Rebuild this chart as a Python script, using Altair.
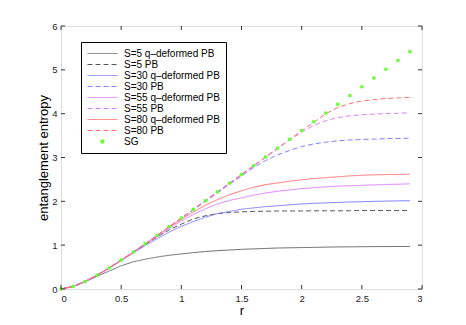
import altair as alt
import pandas as pd

r = [0.0, 0.1, 0.2, 0.3, 0.4, 0.5, 0.6, 0.7, 0.8, 0.9,
     1.0, 1.1, 1.2, 1.3, 1.4, 1.5, 1.6, 1.7, 1.8, 1.9,
     2.0, 2.1, 2.2, 2.3, 2.4, 2.5, 2.6, 2.7, 2.8, 2.9]

sg = [0, 0.056, 0.171, 0.317, 0.483, 0.659, 0.844, 1.034, 1.227, 1.423,
      1.620, 1.818, 2.017, 2.216, 2.415, 2.615, 2.814, 3.014, 3.214, 3.414,
      3.614, 3.814, 4.014, 4.214, 4.414, 4.614, 4.814, 5.014, 5.214, 5.414]

s5_q = [0, 0.055, 0.165, 0.29, 0.41, 0.53, 0.62, 0.68, 0.73, 0.77,
        0.80, 0.83, 0.855, 0.875, 0.89, 0.905, 0.915, 0.925, 0.935, 0.94,
        0.945, 0.95, 0.955, 0.96, 0.962, 0.965, 0.967, 0.968, 0.97, 0.97]
s5_pb = [0, 0.056, 0.171, 0.316, 0.48, 0.655, 0.835, 1.01, 1.19, 1.35,
         1.48, 1.60, 1.67, 1.72, 1.745, 1.76, 1.77, 1.775, 1.78, 1.78,
         1.78, 1.785, 1.785, 1.785, 1.785, 1.79, 1.79, 1.79, 1.79, 1.79]
s30_q = [0, 0.056, 0.17, 0.314, 0.475, 0.645, 0.82, 0.99, 1.15, 1.30,
         1.43, 1.54, 1.64, 1.72, 1.77, 1.82, 1.85, 1.88, 1.90, 1.92,
         1.94, 1.955, 1.965, 1.975, 1.985, 1.99, 2.0, 2.005, 2.01, 2.015]
s30_pb = [0, 0.056, 0.171, 0.317, 0.483, 0.659, 0.843, 1.032, 1.224, 1.418,
          1.612, 1.805, 1.995, 2.19, 2.39, 2.58, 2.77, 2.93, 3.06, 3.16,
          3.25, 3.31, 3.35, 3.38, 3.40, 3.41, 3.42, 3.43, 3.435, 3.44]
s55_q = [0, 0.056, 0.171, 0.316, 0.48, 0.655, 0.835, 1.02, 1.20, 1.38,
         1.55, 1.70, 1.83, 1.94, 2.02, 2.08, 2.14, 2.19, 2.23, 2.26,
         2.29, 2.31, 2.33, 2.345, 2.355, 2.365, 2.375, 2.385, 2.39, 2.40]
s55_pb = [0, 0.056, 0.171, 0.317, 0.483, 0.659, 0.844, 1.034, 1.227, 1.423,
          1.620, 1.818, 2.016, 2.214, 2.41, 2.61, 2.80, 3.00, 3.20, 3.40,
          3.58, 3.73, 3.84, 3.91, 3.95, 3.975, 3.99, 4.00, 4.01, 4.02]
s80_q = [0, 0.056, 0.171, 0.317, 0.482, 0.657, 0.84, 1.03, 1.22, 1.41,
         1.59, 1.76, 1.91, 2.04, 2.15, 2.24, 2.32, 2.38, 2.42, 2.46,
         2.49, 2.52, 2.54, 2.56, 2.58, 2.595, 2.605, 2.61, 2.615, 2.62]
s80_pb = [0, 0.056, 0.171, 0.317, 0.483, 0.659, 0.844, 1.034, 1.227, 1.423,
          1.620, 1.818, 2.017, 2.216, 2.415, 2.615, 2.814, 3.014, 3.214, 3.41,
          3.61, 3.80, 4.00, 4.14, 4.23, 4.29, 4.32, 4.345, 4.36, 4.37]

labels = ["S=5 q–deformed PB", "S=5 PB", "S=30 q–deformed PB", "S=30 PB",
          "S=55 q–deformed PB", "S=55 PB", "S=80 q–deformed PB", "S=80 PB", "SG"]
colors = ["#6e6e6e", "#555555", "#8080ff", "#8080ff", "#dd80ff", "#dd80ff",
          "#ff7070", "#ff7070", "#66ff33"]
dashes = [[1, 0], [5, 3], [1, 0], [5, 3], [1, 0], [5, 3], [1, 0], [5, 3], [1, 0]]

x_ticks = [0, 0.5, 1, 1.5, 2, 2.5, 3]
y_ticks = [0, 1, 2, 3, 4, 5, 6]

series = [s5_q, s5_pb, s30_q, s30_pb, s55_q, s55_pb, s80_q, s80_pb]
rows = []
for lab, vals in zip(labels[:8], series):
    for i, (rv, v) in enumerate(zip(r, vals)):
        rows.append({"r": rv, "v": v, "series": lab, "order": i})
lines_df = pd.DataFrame(rows)
sg_df = pd.DataFrame({"r": r, "v": sg})
xt_df = pd.DataFrame({"t": x_ticks})
yt_df = pd.DataFrame({"t": y_ticks})

W, H = 361, 263
FONT = "Liberation Sans"

xscale = alt.Scale(domain=[0, 3], nice=False)
yscale = alt.Scale(domain=[0, 6], nice=False)

legend = alt.Legend(
    title=None, orient="none", legendX=20, legendY=16,
    symbolType=alt.ExprRef("datum.value == 'SG' ? 'M1.7,-0.3H2.3V0.3H1.7Z' : 'M-1,0H5'"),
    symbolFillColor=alt.ExprRef("datum.value == 'SG' ? '#66ff33' : 'transparent'"),
    symbolSize=100, symbolStrokeWidth=1, labelOffset=26,
    labelFont=FONT, labelFontSize=10, labelColor="#000000",
    strokeColor="#000000", fillColor="#ffffff", padding=6, rowPadding=0,
    labelLimit=300,
)

lines = alt.Chart(lines_df).mark_line(strokeWidth=1, clip=True).encode(
    x=alt.X("r:Q", scale=xscale,
            axis=alt.Axis(values=x_ticks, format="~g", ticks=False, domain=False,
                          grid=False, title="r", labelFont=FONT, labelFontSize=9.5,
                          labelColor="#222222", labelPadding=4, titleFont=FONT,
                          titleFontSize=13, titleFontWeight="normal",
                          titleColor="#000000", titlePadding=2)),
    y=alt.Y("v:Q", scale=yscale,
            axis=alt.Axis(values=y_ticks, format="~g", ticks=False, domain=False,
                          grid=False, title="entanglement entropy", labelFont=FONT,
                          labelFontSize=9.5, labelColor="#222222", labelPadding=4,
                          titleFont=FONT, titleFontSize=13, titleFontWeight="normal",
                          titleColor="#000000", titleX=-11, titleBaseline="bottom")),
    color=alt.Color("series:N", scale=alt.Scale(domain=labels, range=colors),
                    legend=legend),
    strokeDash=alt.StrokeDash("series:N", scale=alt.Scale(domain=labels, range=dashes),
                              legend=legend),
    order="order:Q",
)

points = alt.Chart(sg_df).mark_square(size=10, color="#66ff33", opacity=1).encode(
    x=alt.X("r:Q", scale=xscale),
    y=alt.Y("v:Q", scale=yscale),
)

tick_color = "#333333"
bot = alt.Chart(xt_df).mark_rule(color=tick_color, strokeWidth=1).encode(
    x=alt.X("t:Q", scale=xscale), y=alt.value(H), y2=alt.value(H - 4))
top = alt.Chart(xt_df).mark_rule(color=tick_color, strokeWidth=1).encode(
    x=alt.X("t:Q", scale=xscale), y=alt.value(0), y2=alt.value(4))
left = alt.Chart(yt_df).mark_rule(color=tick_color, strokeWidth=1).encode(
    y=alt.Y("t:Q", scale=yscale), x=alt.value(0), x2=alt.value(4))
right = alt.Chart(yt_df).mark_rule(color=tick_color, strokeWidth=1).encode(
    y=alt.Y("t:Q", scale=yscale), x=alt.value(W), x2=alt.value(W - 4))

chart = alt.layer(lines, points, bot, top, left, right).properties(
    width=W, height=H,
    autosize=alt.AutoSizeParams(type="none"),
    padding={"left": 53, "top": 18, "right": 36, "bottom": 28},
).configure_view(
    stroke="#222222", strokeWidth=1
).configure(background="#ffffff")

chart.save("out.html", embed_options={"renderer": "svg", "actions": False})
